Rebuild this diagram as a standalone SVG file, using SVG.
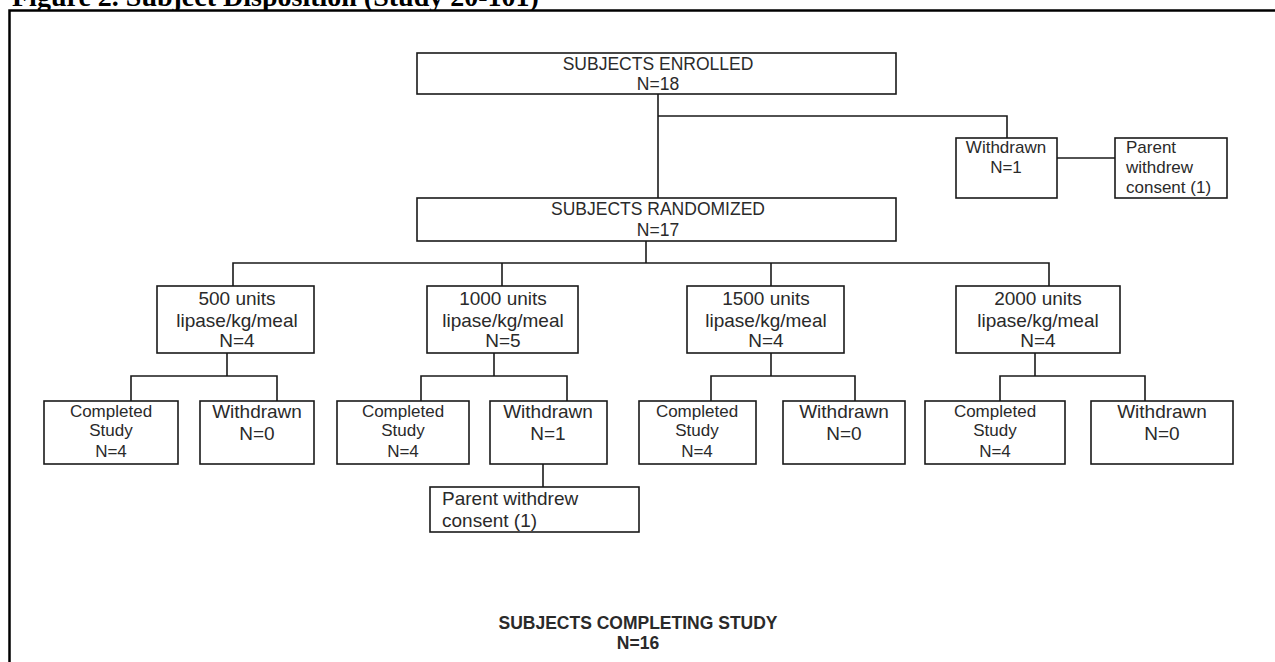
<svg xmlns="http://www.w3.org/2000/svg" width="1275" height="662" viewBox="0 0 1275 662">
<style>
.box{fill:#fff;stroke:#1a1a1a;stroke-width:1.6}
.ln{fill:none;stroke:#1a1a1a;stroke-width:1.6}
.t{font-family:"Liberation Sans",Arial,sans-serif;fill:#2a2a2a}
.c{text-anchor:middle}
.hd{font-size:17.5px}
.arm{font-size:19px}
.cs{font-size:17px}
.wd{font-size:19px}
.sm{font-size:17px}
.title{font-family:"Liberation Serif","Times New Roman",serif;font-weight:bold;font-size:28px;fill:#000}
</style>
<rect width="1275" height="662" fill="#fff"/>
<text class="title" x="12" y="6">Figure 2.  Subject Disposition (Study 20-101)</text>
<rect x="9.5" y="10.5" width="1300" height="700" fill="#fff" stroke="#000" stroke-width="2.5"/>

<g id="connectors">
<path class="ln" d="M658 94V198"/>
<path class="ln" d="M658 116H1007V138"/>
<path class="ln" d="M1057 158H1115"/>
<path class="ln" d="M646 241V263"/>
<path class="ln" d="M233 286V263H1049V286"/>
<path class="ln" d="M502 263V286"/>
<path class="ln" d="M771 263V286"/>
<path class="ln" d="M227 353V376"/>
<path class="ln" d="M131 401V376H277V401"/>
<path class="ln" d="M494 353V376"/>
<path class="ln" d="M421 401V376H567V401"/>
<path class="ln" d="M771 353V376"/>
<path class="ln" d="M711 401V376H855V401"/>
<path class="ln" d="M1035 353V376"/>
<path class="ln" d="M1000 401V376H1145V401"/>
<path class="ln" d="M543 464V487"/>
</g>

<g id="enrolled">
<rect class="box" x="417" y="53" width="479" height="41"/>
<text class="t hd c" x="658" y="70">SUBJECTS ENROLLED</text>
<text class="t hd c" x="658" y="90">N=18</text>
</g>

<g id="withdrawn-top">
<rect class="box" x="956" y="138" width="101" height="60"/>
<text class="t sm c" x="1006" y="153">Withdrawn</text>
<text class="t sm c" x="1006" y="173">N=1</text>
</g>

<g id="parent-top">
<rect class="box" x="1115" y="138" width="112" height="60"/>
<text class="t sm" x="1126" y="153">Parent</text>
<text class="t sm" x="1126" y="173">withdrew</text>
<text class="t sm" x="1126" y="193">consent (1)</text>
</g>

<g id="randomized">
<rect class="box" x="417" y="198" width="479" height="43"/>
<text class="t hd c" x="658" y="215">SUBJECTS RANDOMIZED</text>
<text class="t hd c" x="658" y="236">N=17</text>
</g>

<g id="arm500">
<rect class="box" x="157" y="286" width="157" height="67"/>
<text class="t arm c" x="237" y="305">500 units</text>
<text class="t arm c" x="237" y="327">lipase/kg/meal</text>
<text class="t arm c" x="237" y="347">N=4</text>
</g>
<g id="arm1000">
<rect class="box" x="427" y="286" width="151" height="67"/>
<text class="t arm c" x="503" y="305">1000 units</text>
<text class="t arm c" x="503" y="327">lipase/kg/meal</text>
<text class="t arm c" x="503" y="347">N=5</text>
</g>
<g id="arm1500">
<rect class="box" x="687" y="286" width="157" height="67"/>
<text class="t arm c" x="766" y="305">1500 units</text>
<text class="t arm c" x="766" y="327">lipase/kg/meal</text>
<text class="t arm c" x="766" y="347">N=4</text>
</g>
<g id="arm2000">
<rect class="box" x="956" y="286" width="164" height="67"/>
<text class="t arm c" x="1038" y="305">2000 units</text>
<text class="t arm c" x="1038" y="327">lipase/kg/meal</text>
<text class="t arm c" x="1038" y="347">N=4</text>
</g>

<g id="completed500">
<rect class="box" x="44" y="401" width="134" height="63"/>
<text class="t cs c" x="111" y="417">Completed</text>
<text class="t cs c" x="111" y="436">Study</text>
<text class="t cs c" x="111" y="457">N=4</text>
</g>
<g id="withdrawn500">
<rect class="box" x="200" y="401" width="114" height="63"/>
<text class="t wd c" x="257" y="418">Withdrawn</text>
<text class="t wd c" x="257" y="440">N=0</text>
</g>
<g id="completed1000">
<rect class="box" x="337" y="401" width="132" height="63"/>
<text class="t cs c" x="403" y="417">Completed</text>
<text class="t cs c" x="403" y="436">Study</text>
<text class="t cs c" x="403" y="457">N=4</text>
</g>
<g id="withdrawn1000">
<rect class="box" x="490" y="401" width="117" height="63"/>
<text class="t wd c" x="548" y="418">Withdrawn</text>
<text class="t wd c" x="548" y="440">N=1</text>
</g>
<g id="completed1500">
<rect class="box" x="639" y="401" width="117" height="63"/>
<text class="t cs c" x="697" y="417">Completed</text>
<text class="t cs c" x="697" y="436">Study</text>
<text class="t cs c" x="697" y="457">N=4</text>
</g>
<g id="withdrawn1500">
<rect class="box" x="783" y="401" width="122" height="63"/>
<text class="t wd c" x="844" y="418">Withdrawn</text>
<text class="t wd c" x="844" y="440">N=0</text>
</g>
<g id="completed2000">
<rect class="box" x="925" y="401" width="140" height="63"/>
<text class="t cs c" x="995" y="417">Completed</text>
<text class="t cs c" x="995" y="436">Study</text>
<text class="t cs c" x="995" y="457">N=4</text>
</g>
<g id="withdrawn2000">
<rect class="box" x="1091" y="401" width="142" height="63"/>
<text class="t wd c" x="1162" y="418">Withdrawn</text>
<text class="t wd c" x="1162" y="440">N=0</text>
</g>

<g id="parent1000">
<rect class="box" x="430" y="487" width="209" height="45"/>
<text class="t wd" x="442" y="505">Parent withdrew</text>
<text class="t wd" x="442" y="527">consent (1)</text>
</g>

<g id="completing">
<text class="t c" x="638" y="629" font-size="17.5" font-weight="bold" fill="#111">SUBJECTS COMPLETING STUDY</text>
<text class="t c" x="638" y="649" font-size="17.5" font-weight="bold" fill="#111">N=16</text>
</g>
</svg>
